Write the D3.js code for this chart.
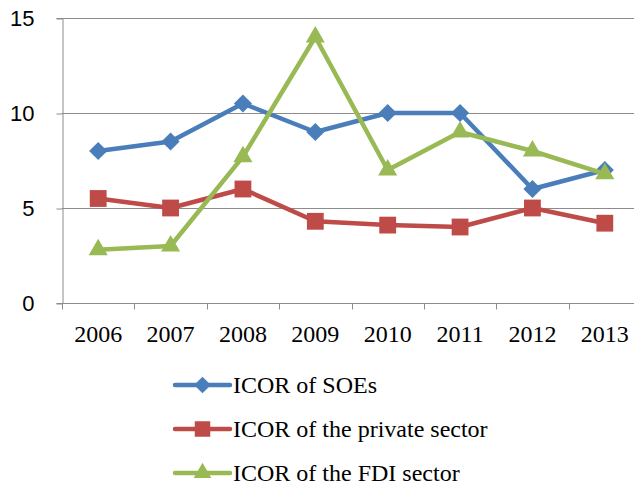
<!DOCTYPE html>
<html>
<head>
<meta charset="utf-8">
<script src="https://cdn.jsdelivr.net/npm/d3@7"></script>
<style>
  body { margin: 0; background: #fff; }
  svg { display: block; }
</style>
</head>
<body>
<div id="chart"></div>
<script>
// chart data
const years = ["2006", "2007", "2008", "2009", "2010", "2011", "2012", "2013"];
const soeValues = [8.0, 8.5, 10.5, 9.0, 10.0, 10.0, 6.0, 7.0];
const privateValues = [5.5, 5.0, 6.0, 4.3, 4.1, 4.0, 5.0, 4.2];
const fdiValues = [2.8, 3.0, 7.7, 14.0, 7.0, 9.0, 8.0, 6.8];
const yTicks = [0, 5, 10, 15];

const series = [
    { name: "ICOR of SOEs", values: soeValues, color: "#4a7ebb", marker: d3.symbolDiamond2, size: 210 },
    { name: "ICOR of the private sector", values: privateValues, color: "#be4b48", marker: d3.symbolSquare2, size: 360 },
    { name: "ICOR of the FDI sector", values: fdiValues, color: "#98b954", marker: d3.symbolTriangle2, size: 260 }
];

const width = 634, height = 487;
const plot = { left: 62, right: 641, top: 18, bottom: 303 };

const svg = d3.select("#chart").append("svg")
    .attr("width", width)
    .attr("height", height);

const x = d3.scaleBand().domain(years).range([plot.left, plot.right]);
const y = d3.scaleLinear().domain([0, 15]).range([plot.bottom, plot.top]);

// gridlines
svg.append("g")
    .selectAll("line")
    .data(yTicks)
    .enter().append("line")
    .attr("x1", plot.left)
    .attr("x2", plot.right)
    .attr("y1", d => Math.round(y(d)) + 0.5)
    .attr("y2", d => Math.round(y(d)) + 0.5)
    .style("stroke", "#8c8c8c")
    .style("stroke-width", 1);

// y axis
const yAxis = svg.append("g")
    .attr("transform", `translate(${plot.left + 0.5},0)`)
    .call(d3.axisLeft(y).tickValues(yTicks).tickSize(6).tickPadding(22));
yAxis.select(".domain").style("stroke", "#8c8c8c");
yAxis.selectAll(".tick line").style("stroke", "#8c8c8c")
    .attr("transform", d => `translate(0,${Math.round(y(d)) + 0.5 - y(d)})`);
yAxis.selectAll("text")
    .style("font-family", "'Liberation Sans', Arial, sans-serif")
    .style("font-size", "22px")
    .style("fill", "#000");

// x axis
const xAxis = svg.append("g")
    .attr("transform", `translate(0,${Math.round(y(0)) + 0.5})`)
    .call(d3.axisBottom(x).tickSize(0).tickPadding(21));
xAxis.select(".domain").remove();
xAxis.selectAll("text")
    .style("font-family", "'Liberation Serif', 'Times New Roman', serif")
    .style("font-size", "24px")
    .style("fill", "#000");
xAxis.selectAll(".boundary")
    .data(d3.range(years.length + 1))
    .enter().append("line")
    .attr("x1", i => Math.round(plot.left + i * x.step()) + 0.5)
    .attr("x2", i => Math.round(plot.left + i * x.step()) + 0.5)
    .attr("y1", 0)
    .attr("y2", 6)
    .style("stroke", "#8c8c8c");

// lines and markers
const line = d3.line()
    .x((d, i) => x(years[i]) + x.bandwidth() / 2)
    .y(d => y(d));

series.forEach(s => {
    const g = svg.append("g");
    g.append("path")
        .datum(s.values)
        .attr("d", line)
        .style("fill", "none")
        .style("stroke", s.color)
        .style("stroke-width", 4.5)
        .style("stroke-linejoin", "round");
    g.selectAll(".marker")
        .data(s.values)
        .enter().append("path")
        .attr("class", "marker")
        .attr("transform", (d, i) => `translate(${x(years[i]) + x.bandwidth() / 2},${y(d)})`)
        .attr("d", d3.symbol().type(s.marker).size(s.size))
        .style("fill", s.color);
});

// legend
const legendRows = [385, 429, 473];
const legend = svg.append("g");
series.forEach((s, i) => {
    const row = legend.append("g").attr("transform", `translate(175,${legendRows[i]})`);
    row.append("line")
        .attr("x1", 0).attr("x2", 55)
        .style("stroke", s.color)
        .style("stroke-width", 4.5)
        .style("stroke-linecap", "round");
    row.append("path")
        .attr("transform", "translate(27.5,0)")
        .attr("d", d3.symbol().type(s.marker).size(s.size * 0.85))
        .style("fill", s.color);
    row.append("text")
        .attr("x", 58)
        .attr("dy", "0.35em")
        .style("font-family", "'Liberation Serif', 'Times New Roman', serif")
        .style("font-size", "24px")
        .text(s.name);
});
</script>
</body>
</html>
